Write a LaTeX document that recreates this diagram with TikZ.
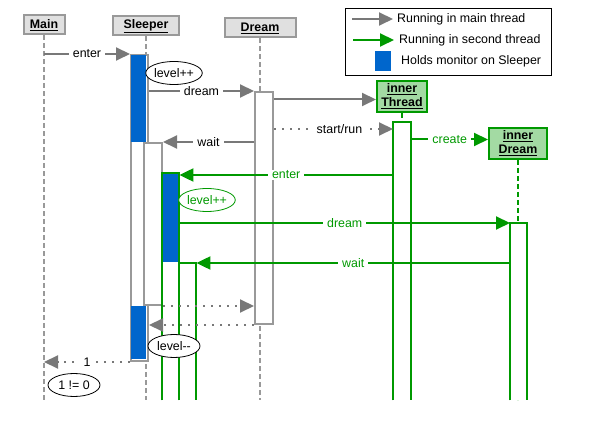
\documentclass[tikz,border=0pt]{standalone}
\usepackage{fontspec}
\setmainfont{Liberation Sans}
\usetikzlibrary{arrows.meta,shapes.geometric}
\definecolor{arrgray}{RGB}{120,120,120}
\definecolor{linegray}{RGB}{153,153,153}
\definecolor{boxfill}{RGB}{224,224,224}
\definecolor{thgreen}{RGB}{0,153,0}
\definecolor{boxgreen}{RGB}{163,218,163}
\definecolor{monblue}{RGB}{0,102,204}
\begin{document}
\begin{tikzpicture}[x=1pt, y=-1pt, font=\fontsize{12.4}{14}\selectfont]
    \tikzset{hd/.style={draw=linegray, fill=boxfill, line width=2pt, inner sep=0pt, align=center, font=\fontsize{12.4}{14}\selectfont\bfseries},
             ihd/.style={hd, draw=thgreen, fill=boxgreen},
             life/.style={linegray, line width=2pt, dash pattern=on 5pt off 3pt},
             ilife/.style={life, thgreen},
             bar/.style={rectangle, draw=linegray, fill=white, line width=2pt, inner sep=0pt, anchor=north west},
             obar/.style={rectangle, fill=white, inner sep=0pt, anchor=north west},
             gedge/.style={thgreen, line width=2pt},
             gmsg/.style={arrgray, line width=2pt, -{Triangle[length=14pt, width=13pt]}},
             dmsg/.style={gmsg, dash pattern=on 2pt off 6pt},
             tmsg/.style={gmsg, thgreen},
             lbl/.style={midway, fill=white, inner xsep=4pt, inner ysep=1pt, text=black},
             glbl/.style={lbl, text=thgreen},
             note/.style={ellipse, draw, fill=white, line width=0.8pt, inner sep=0pt, minimum width=52pt, minimum height=23pt}}
    \useasboundingbox (0,0) rectangle (589,443);
    \coordinate (bot) at (0,400);

    % ---- Heads and life lines ----
    \node[hd, minimum width=41pt, minimum height=19pt] (main) at (44,25) {\underline{Main}};
    \node[hd, minimum width=66pt, minimum height=19pt] (sleeper) at (146,26) {\underline{Sleeper}};
    \node[hd, minimum width=71pt, minimum height=19pt] (dream) at (260,28) {\underline{Dream}};
    \node[ihd, minimum width=50pt, minimum height=31pt] (ithread) at (402,96.5) {\underline{inner}\\\underline{Thread}};
    \node[ihd, minimum width=58pt, minimum height=31pt] (idream) at (518,143.5) {\underline{inner}\\\underline{Dream}};
    \draw[life] (main.south) -- (main |- bot);
    \draw[life] (sleeper.south) -- (sleeper |- bot);
    \draw[life] (dream.south) -- (dream |- bot);
    \draw[ilife] (ithread.south) -- (ithread |- bot);
    \draw[ilife] (idream.south) -- (idream |- bot);

    % ---- Activation bars ----
    \node[bar, minimum width=17pt, minimum height=306pt] (sb1) at (130,54) {};
    \fill[monblue] (131,55) rectangle (146,142);
    \fill[monblue] (131,306) rectangle (146,359);
    \node[bar, minimum width=18pt, minimum height=162pt] (sb2) at (143,142) {};
    \node[bar, minimum width=18pt, minimum height=232pt] (db1) at (254,91) {};
    \node[obar, minimum width=17pt, minimum height=227pt] (sb3) at (162,173) {};
    \fill[monblue] (163,174) rectangle (178,262);
    \draw[gedge] (sb3.south west) |- (sb3.north east) -- (sb3.south east);
    \node[obar, minimum width=17pt, minimum height=137pt] (sb4) at (179,263) {};
    \draw[gedge] (sb4.south west) |- (sb4.north east) -- (sb4.south east);
    \node[obar, minimum width=18pt, minimum height=278pt] (tb1) at (393,122) {};
    \draw[gedge] (tb1.south west) |- (tb1.north east) -- (tb1.south east);
    \node[obar, minimum width=17pt, minimum height=177pt] (ib1) at (510,223) {};
    \draw[gedge] (ib1.south west) |- (ib1.north east) -- (ib1.south east);

    % ---- Messages ----
    \coordinate (thin) at ([yshift=-3pt]ithread.west);
    \coordinate (run) at ([yshift=-7pt]tb1.north west);
    \coordinate (new) at ([yshift=4pt]idream.west);
    \draw[gmsg] (main |- sb1.north) -- node[lbl] {enter} (sb1.north west);
    \draw[gmsg] (sb1.east |- db1.north) -- node[lbl] {dream} (db1.north west);
    \draw[gmsg] (db1.east |- thin) -- (thin);
    \draw[dmsg] (db1.east |- run) -- node[lbl, pos=0.55] {start/run} (run);
    \draw[gmsg] (db1.west |- sb2.north) -- node[lbl] {wait} (sb2.north east);
    \draw[tmsg] (tb1.east |- new) -- node[glbl] {create} (new);
    \draw[tmsg] (tb1.west |- sb3.north) ++(0,2) -- node[glbl] {enter} ([yshift=-2pt]sb3.north east);
    \draw[tmsg] (sb3.east |- ib1.north) -- node[glbl] {dream} (ib1.north west);
    \draw[tmsg] (ib1.west |- sb4.north) -- node[glbl] {wait} (sb4.north east);
    \draw[dmsg] (sb2.south east) -- (db1.west |- sb2.south);
    \draw[dmsg] (db1.south west) -- (sb1.east |- db1.south);
    \draw[dmsg] (sb1.south west) -- node[lbl] {1} (main |- sb1.south);

    % ---- Notes ----
    \node[note] (up1) at (174,73) {level++};
    \node[note, draw=thgreen, text=thgreen] (up2) at (207,200) {level++};
    \node[note] (down1) at (174,346) {level-{}-};
    \node[note] (check) at (74,385) {1 != 0};

    % ---- Legend ----
    \node[draw, line width=1pt, anchor=north west, inner sep=0pt, minimum width=206pt, minimum height=67pt] (legend) at (345,8) {};
    \node[anchor=west, inner xsep=4pt] (lt1) at (393,19) {Running in main thread};
    \node[anchor=west, inner xsep=5pt] (lt2) at (394,40) {Running in second thread};
    \node[anchor=west, inner xsep=0pt] (lt3) at (401,61) {Holds monitor on Sleeper};
    \coordinate (lg1) at (352,19);
    \coordinate (lg2) at (353,40);
    \draw[gmsg] (lg1) -- (lt1.west);
    \draw[tmsg] (lg2) -- (lt2.west);
    \fill[monblue] (375,51) rectangle (391,71);
\end{tikzpicture}
\end{document}
